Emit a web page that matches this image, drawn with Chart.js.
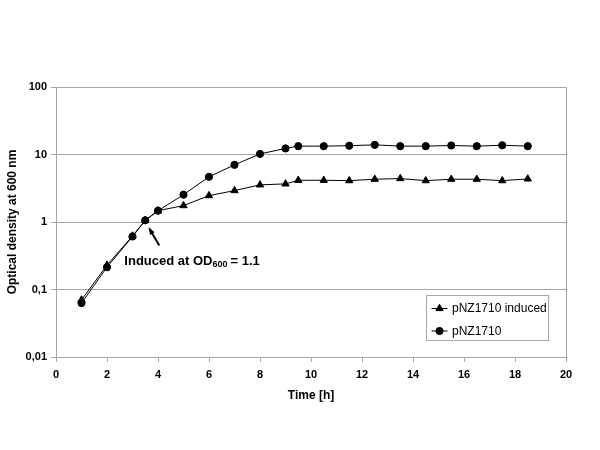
<!DOCTYPE html>
<html>
<head>
<meta charset="utf-8">
<script src="https://cdn.jsdelivr.net/npm/chart.js@4/dist/chart.umd.min.js"></script>
<style>
  html, body { margin: 0; padding: 0; background: #fff; }
  #wrap { width: 600px; height: 450px; }
</style>
</head>
<body>
<div id="wrap"><canvas id="growth"></canvas></div>
<script>
// time points (h)
const hours = [1, 2, 3, 3.5, 4, 5, 6, 7, 8, 9, 9.5, 10.5, 11.5, 12.5, 13.5, 14.5, 15.5, 16.5, 17.5, 18.5];
// OD600 values
const inducedOD = [0.07, 0.23, 0.62, 1.06, 1.47, 1.75, 2.46, 2.92, 3.55, 3.67, 4.15, 4.15, 4.1, 4.3, 4.4, 4.1, 4.3, 4.3, 4.1, 4.35];
const controlOD = [0.063, 0.214, 0.61, 1.06, 1.47, 2.54, 4.67, 7.03, 10.2, 12.3, 13.3, 13.3, 13.5, 13.9, 13.3, 13.3, 13.6, 13.3, 13.7, 13.3];
const seriesNames = ['pNZ1710 induced', 'pNZ1710'];
const yTicks = [0.01, 0.1, 1, 10, 100];
const yTickLabels = ['0,01', '0,1', '1', '10', '100'];
const xTicks = [0, 2, 4, 6, 8, 10, 12, 14, 16, 18, 20];

const gridGray = '#a6a6a6';
const boldFont = { family: 'Liberation Sans, Arial, sans-serif', size: 11, weight: 'bold' };

// frame round the plot area
const framePlugin = {
  id: 'frame',
  beforeDatasetsDraw(chart) {
    const { ctx, chartArea: a } = chart;
    ctx.save();
    ctx.strokeStyle = gridGray;
    ctx.lineWidth = 1;
    ctx.beginPath();
    ctx.moveTo(Math.round(a.left) + 0.5, Math.round(a.top) + 0.5);
    ctx.lineTo(Math.round(a.right) + 0.5, Math.round(a.top) + 0.5);
    ctx.lineTo(Math.round(a.right) + 0.5, Math.round(a.bottom) + 0.5);
    ctx.stroke();
    ctx.restore();
  }
};

// "Induced at OD600 = 1.1" label with arrow
const notePlugin = {
  id: 'note',
  afterDatasetsDraw(chart) {
    const { ctx, scales: { x, y } } = chart;
    const tipX = x.getPixelForValue(3.67), tipY = y.getPixelForValue(0.79);
    const tailX = x.getPixelForValue(4.05), tailY = y.getPixelForValue(0.45);
    ctx.save();
    ctx.strokeStyle = '#000';
    ctx.fillStyle = '#000';
    ctx.lineWidth = 2;
    ctx.beginPath();
    ctx.moveTo(tailX, tailY);
    ctx.lineTo(tipX, tipY);
    ctx.stroke();
    const ang = Math.atan2(tipY - tailY, tipX - tailX);
    ctx.beginPath();
    ctx.moveTo(tipX + 2 * Math.cos(ang), tipY + 2 * Math.sin(ang));
    ctx.lineTo(tipX - 6 * Math.cos(ang - 0.45), tipY - 6 * Math.sin(ang - 0.45));
    ctx.lineTo(tipX - 6 * Math.cos(ang + 0.45), tipY - 6 * Math.sin(ang + 0.45));
    ctx.closePath();
    ctx.fill();

    let tx = x.getPixelForValue(2.68);
    const ty = y.getPixelForValue(0.232);
    ctx.textBaseline = 'alphabetic';
    ctx.font = 'bold 13px Liberation Sans, Arial, sans-serif';
    ctx.fillText('Induced at OD', tx, ty);
    tx += ctx.measureText('Induced at OD').width;
    ctx.font = 'bold 9px Liberation Sans, Arial, sans-serif';
    ctx.fillText('600', tx, ty + 2);
    tx += ctx.measureText('600').width + 3;
    ctx.font = 'bold 13px Liberation Sans, Arial, sans-serif';
    ctx.fillText('= 1.1', tx, ty);
    ctx.restore();
  }
};

// boxed legend in the lower right of the plot
const legendBoxPlugin = {
  id: 'legendBox',
  afterDraw(chart) {
    const { ctx } = chart;
    const bx = 426.5, by = 295.5, bw = 122, bh = 45;
    ctx.save();
    ctx.strokeStyle = gridGray;
    ctx.lineWidth = 1;
    ctx.strokeRect(bx, by, bw, bh);
    chart.data.datasets.forEach((ds, i) => {
      const ly = 308.5 + i * 22.5;
      ctx.strokeStyle = '#000';
      ctx.beginPath();
      ctx.moveTo(431.5, ly);
      ctx.lineTo(447.5, ly);
      ctx.stroke();
      Chart.helpers.drawPoint(ctx, {
        pointStyle: ds.pointStyle, radius: ds.pointRadius, borderWidth: 1
      }, 439.5, ly);
      ctx.fillStyle = '#000';
      ctx.font = '12px Liberation Sans, Arial, sans-serif';
      ctx.textBaseline = 'middle';
      ctx.fillText(ds.label, 452, ly + 0.5);
    });
    ctx.restore();
  }
};

const toPoints = vals => hours.map((h, i) => ({ x: h, y: vals[i] }));

new Chart(document.getElementById('growth'), {
  type: 'line',
  data: {
    datasets: [
      {
        label: seriesNames[0],
        data: toPoints(inducedOD),
        borderColor: '#000',
        backgroundColor: '#000',
        borderWidth: 1,
        pointStyle: 'triangle',
        pointRadius: 4.2,
        pointBorderWidth: 1,
        tension: 0
      },
      {
        label: seriesNames[1],
        data: toPoints(controlOD),
        borderColor: '#000',
        backgroundColor: '#000',
        borderWidth: 1,
        pointStyle: 'circle',
        pointRadius: 3.6,
        pointBorderWidth: 1,
        tension: 0
      }
    ]
  },
  options: {
    responsive: true,
    maintainAspectRatio: false,
    animation: false,
    layout: { padding: { top: 87, right: 34, left: 1, bottom: 0 } },
    plugins: {
      legend: { display: false },
      tooltip: { enabled: false }
    },
    scales: {
      x: {
        type: 'linear',
        min: 0,
        max: 20,
        afterBuildTicks: scale => { scale.ticks = xTicks.map(v => ({ value: v })); },
        afterFit: scale => { scale.height = 93; },
        ticks: { color: '#000', font: boldFont, padding: 6, maxRotation: 0 },
        grid: { drawOnChartArea: false, drawTicks: true, tickLength: 5, color: gridGray },
        border: { color: gridGray },
        title: {
          display: true,
          text: 'Time [h]',
          color: '#000',
          font: { family: 'Liberation Sans, Arial, sans-serif', size: 12, weight: 'bold' },
          padding: { top: 4, bottom: 47 }
        }
      },
      y: {
        type: 'logarithmic',
        min: 0.01,
        max: 100,
        afterBuildTicks: scale => { scale.ticks = yTicks.map(v => ({ value: v })); },
        afterFit: scale => { scale.width = 55; },
        ticks: {
          color: '#000',
          font: boldFont,
          padding: 4,
          callback: v => yTickLabels[yTicks.indexOf(v)]
        },
        grid: { color: gridGray, drawTicks: true, tickLength: 5 },
        border: { color: gridGray },
        title: {
          display: true,
          text: 'Optical density at 600 nm',
          color: '#000',
          font: { family: 'Liberation Sans, Arial, sans-serif', size: 12, weight: 'bold' },
          padding: { bottom: 0 }
        }
      }
    }
  },
  plugins: [framePlugin, notePlugin, legendBoxPlugin]
});
</script>
</body>
</html>
